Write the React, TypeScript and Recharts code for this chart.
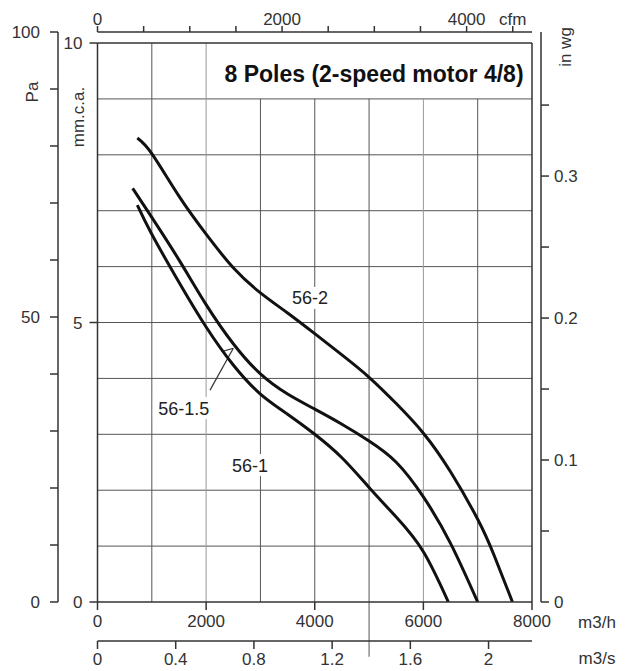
import { Line, LineChart, ReferenceDot, ReferenceLine, XAxis, YAxis } from 'recharts'

// fan curves, flow in m3/h, pressure in mm.c.a.
const flow56_2 = [733, 1000, 1500, 2000, 2500, 3000, 3500, 4000, 4500, 5000, 5500, 6000, 6500, 7000, 7300, 7640]
const press56_2 = [8.3, 8.02, 7.26, 6.58, 5.98, 5.53, 5.17, 4.8, 4.42, 4.02, 3.55, 3.02, 2.33, 1.48, 0.84, 0]

const flow56_15 = [648, 1000, 1500, 2000, 2500, 3000, 3500, 4000, 4500, 5000, 5500, 6000, 6500, 7000]
const press56_15 = [7.4, 6.88, 6.12, 5.32, 4.62, 4.08, 3.72, 3.45, 3.18, 2.88, 2.5, 1.88, 1.05, 0]

const flow56_1 = [733, 1000, 1500, 2000, 2500, 3000, 3500, 4000, 4500, 5000, 5500, 6000, 6460]
const press56_1 = [7.1, 6.58, 5.72, 4.92, 4.24, 3.72, 3.36, 3.0, 2.58, 2.05, 1.52, 0.9, 0]

const curveNames = ['56-2', '56-1.5', '56-1']
const labelFlow = [3913, 1587, 2808]
const labelPress = [5.44, 3.47, 2.45]

const m3hTicks = [0, 2000, 4000, 6000, 8000]
const m3sTicks = [0, 0.4, 0.8, 1.2, 1.6, 2]
const cfmTicks = [0, 500, 1000, 1500, 2000, 2500, 3000, 3500, 4000, 4500]
const mmTicks = [0, 5, 10]
const paTicks = [0, 10, 20, 30, 40, 50, 60, 70, 80, 90, 100]
const wgTicks = [0, 0.05, 0.1, 0.15, 0.2, 0.25, 0.3, 0.35]
const gridFlow = [1000, 2000, 3000, 4000, 5000, 6000, 7000]
const lightFlow = [2000, 6000]
const gridMm = [1, 2, 3, 4, 5, 6, 7, 8, 9]

const PA_PER_MM = 9.80665
const PA_PER_INWG = 249.0889
const M3H_PER_CFM = 1.69901
const M3H_PER_M3S = 3600
const MAX_FLOW = 8000
const MAX_PA = 100

// each point also carries the flow in the secondary units, so the cfm and m3/s axes get data
const toPoints = (qs: number[], ps: number[]) =>
  qs.map((q, i) => ({ q, cfm: q / M3H_PER_CFM, s: q / M3H_PER_M3S, p: ps[i] }))
const curves = [toPoints(flow56_2, press56_2), toPoints(flow56_15, press56_15), toPoints(flow56_1, press56_1)]

const axisStroke = { stroke: '#333', strokeWidth: 1.5 }
const tickText = { fontSize: 17, fill: '#333' }
const gridStroke = '#555'

const labelShape = (text: string) => (props: any) => {
  const { cx, cy } = props
  const w = text.length * 9.6 + 4
  return (
    <g>
      <rect x={cx - w / 2} y={cy - 11} width={w} height={22} fill="#fff" />
      <text x={cx} y={cy} dy="0.36em" textAnchor="middle" fontSize={18} fill="#222">
        {text}
      </text>
    </g>
  )
}

export default function App() {
  return (
    <div
      style={{
        position: 'absolute',
        left: 0,
        top: 0,
        width: 627,
        height: 671,
        background: '#fff',
        fontFamily: '"Liberation Sans", Arial, Helvetica, sans-serif',
      }}
    >
      <LineChart width={627} height={671} margin={{ top: 0, right: 0, bottom: 0, left: 0 }}>
        <XAxis
          dataKey="q"
          type="number"
          domain={[0, MAX_FLOW]}
          ticks={m3hTicks}
          interval={0}
          height={39}
          tickSize={8}
          tickMargin={5}
          axisLine={axisStroke}
          tickLine={axisStroke}
          tick={tickText}
        />
        <XAxis
          xAxisId="m3s"
          dataKey="s"
          type="number"
          domain={[0, MAX_FLOW / M3H_PER_M3S]}
          allowDataOverflow
          ticks={m3sTicks}
          interval={0}
          height={30}
          tickSize={8}
          tickMargin={4}
          axisLine={axisStroke}
          tickLine={axisStroke}
          tick={tickText}
        />
        <XAxis
          xAxisId="cfm"
          dataKey="cfm"
          orientation="top"
          type="number"
          domain={[0, MAX_FLOW / M3H_PER_CFM]}
          allowDataOverflow
          ticks={cfmTicks}
          interval={0}
          height={32}
          tickSize={6}
          tickMargin={1}
          axisLine={axisStroke}
          tickLine={axisStroke}
          tick={tickText}
          tickFormatter={(v: number) => (v === 4500 ? 'cfm' : v % 2000 === 0 ? String(v) : '')}
        />
        <YAxis
          type="number"
          domain={[0, MAX_PA / PA_PER_MM]}
          allowDataOverflow
          ticks={mmTicks}
          interval={0}
          width={39.5}
          tickSize={8}
          tickMargin={7}
          axisLine={false}
          tickLine={axisStroke}
          tick={tickText}
        />
        <YAxis
          yAxisId="pa"
          type="number"
          domain={[0, MAX_PA]}
          allowDataOverflow
          ticks={paTicks}
          interval={0}
          width={58}
          tickSize={8}
          tickMargin={10}
          axisLine={axisStroke}
          tickLine={axisStroke}
          tick={tickText}
          tickFormatter={(v: number) => (v % 50 === 0 ? String(v) : '')}
        />
        <YAxis
          yAxisId="gap"
          orientation="right"
          type="number"
          domain={[0, 1]}
          allowDataOverflow
          width={9}
          axisLine={false}
          tickLine={false}
          tick={false}
        />
        <YAxis
          yAxisId="wg"
          orientation="right"
          type="number"
          domain={[0, MAX_PA / PA_PER_INWG]}
          allowDataOverflow
          ticks={wgTicks}
          interval={0}
          width={86}
          tickSize={8}
          tickMargin={5}
          axisLine={axisStroke}
          tickLine={axisStroke}
          tick={tickText}
          tickFormatter={(v: number) => ([0, 0.1, 0.2, 0.3].includes(v) ? String(v) : '')}
        />

        {gridMm.map((m) => (
          <ReferenceLine key={'h' + m} y={m} stroke={gridStroke} strokeWidth={1} />
        ))}
        {gridFlow.map((q) => (
          <ReferenceLine
            key={'v' + q}
            segment={[
              { x: q, y: q === 5000 ? -0.98 : 0 },
              { x: q, y: q <= 2000 ? 10 : 9 },
            ]}
            ifOverflow="visible"
            stroke={lightFlow.includes(q) ? '#999' : gridStroke}
            strokeWidth={1}
          />
        ))}
        <ReferenceLine y={10} stroke="#333" strokeWidth={1.5} />
        <ReferenceLine segment={[{ x: 0, y: 0 }, { x: 0, y: 10 }]} stroke="#333" strokeWidth={1.5} />
        <ReferenceLine segment={[{ x: MAX_FLOW, y: 0 }, { x: MAX_FLOW, y: 10 }]} stroke="#333" strokeWidth={1.5} />

        {/* leader for 56-1.5 */}
        <ReferenceLine segment={[{ x: 2072, y: 3.79 }, { x: 2501, y: 4.54 }]} stroke="#333" strokeWidth={1.2} />
        <ReferenceLine segment={[{ x: 2287, y: 4.48 }, { x: 2501, y: 4.54 }]} stroke="#333" strokeWidth={1.2} />

        {curves.map((c, i) => (
          <Line
            key={curveNames[i]}
            data={c}
            dataKey="p"
            type="natural"
            stroke="#111"
            strokeWidth={3}
            dot={false}
            activeDot={false}
            isAnimationActive={false}
          />
        ))}
        {/* same 56-2 curve against the secondary flow axes, kept invisible */}
        <Line xAxisId="cfm" data={curves[0]} dataKey="p" stroke="none" dot={false} activeDot={false} isAnimationActive={false} />
        <Line xAxisId="m3s" data={curves[0]} dataKey="p" stroke="none" dot={false} activeDot={false} isAnimationActive={false} />

        {curveNames.map((n, i) => (
          <ReferenceDot key={n} x={labelFlow[i]} y={labelPress[i]} r={1} shape={labelShape(n)} />
        ))}
      </LineChart>

      <svg width={627} height={671} style={{ position: 'absolute', left: 0, top: 0, pointerEvents: 'none' }}>
        <text x={374} y={82} textAnchor="middle" fontSize={23} fontWeight="bold" fill="#111">
          8 Poles (2-speed motor 4/8)
        </text>
        <text transform="translate(32,92) rotate(-90)" dy="0.36em" textAnchor="middle" fontSize={17} fill="#333">
          Pa
        </text>
        <text transform="translate(77.5,117) rotate(-90)" dy="0.36em" textAnchor="middle" fontSize={17} fill="#333">
          mm.c.a.
        </text>
        <text transform="translate(565,47) rotate(-90)" dy="0.36em" textAnchor="middle" fontSize={17} fill="#333">
          in wg
        </text>
        <text x={597} y={622} dy="0.36em" textAnchor="middle" fontSize={17} fill="#333">
          m3/h
        </text>
        <text x={597} y={658} dy="0.36em" textAnchor="middle" fontSize={17} fill="#333">
          m3/s
        </text>
      </svg>
    </div>
  )
}
